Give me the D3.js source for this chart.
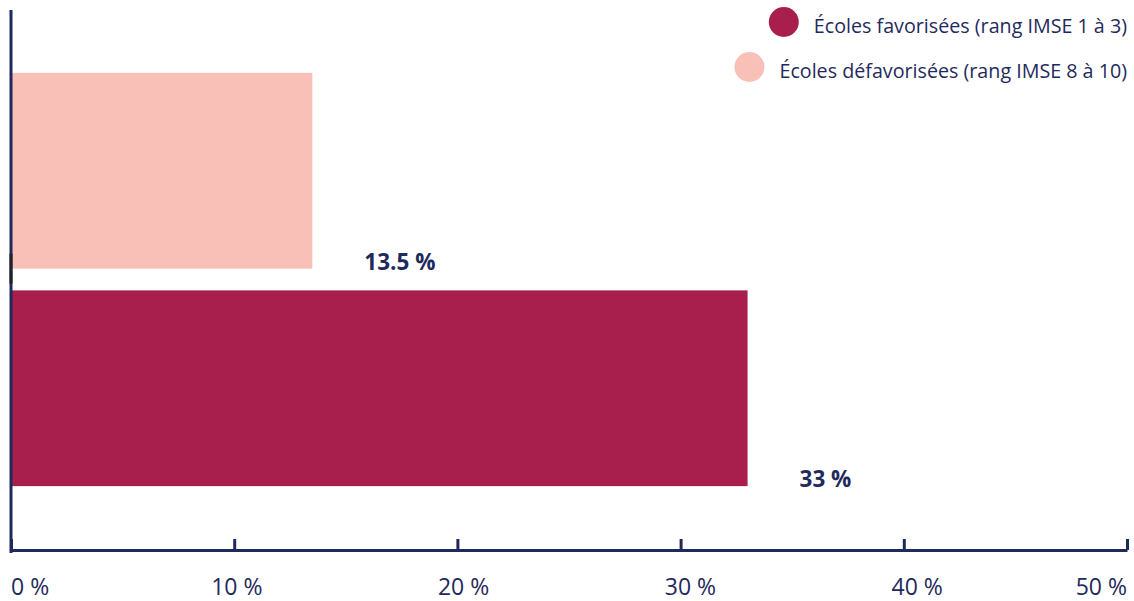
<!DOCTYPE html>
<html lang="fr">
<head>
<meta charset="utf-8">
<script src="https://cdn.jsdelivr.net/npm/d3@7"></script>
<style>
  html, body { margin: 0; padding: 0; background: #fff; }
  svg { display: block; font-family: "Open Sans", "Noto Sans", sans-serif; }
</style>
</head>
<body>
<svg id="chart" width="1134" height="601"></svg>
<script>
// Part des écoles (en %) selon le rang IMSE
const categories = ["Écoles défavorisées (rang IMSE 8 à 10)", "Écoles favorisées (rang IMSE 1 à 3)"];
const values = [13.5, 33];
const colors = ["#f9c0b8", "#a81e4d"];
const legendOrder = [1, 0];
const tickValues = [0, 10, 20, 30, 40, 50];
const tickLabels = ["0 %", "10 %", "20 %", "30 %", "40 %", "50 %"];

const navy = "#1f2a5c";
const svg = d3.select("#chart");

const x = d3.scaleLinear().domain([0, 50]).range([11, 1127]);
const y = d3.scaleBand().domain(categories).range([62, 497])
  .paddingInner(0.1).paddingOuter(0.05);

// Bars
svg.append("g").selectAll("rect")
  .data(categories)
  .join("rect")
  .attr("x", x(0))
  .attr("y", d => y(d))
  .attr("width", (d, i) => x(values[i]) - x(0))
  .attr("height", y.bandwidth())
  .attr("fill", (d, i) => colors[i]);

// Value labels
svg.append("g").selectAll("text")
  .data(categories)
  .join("text")
  .attr("x", (d, i) => x(values[i]) + 52)
  .attr("y", d => y(d) + y.bandwidth() + 1)
  .attr("fill", navy)
  .attr("font-size", 22.5)
  .attr("font-weight", 700)
  .text((d, i) => String(values[i]) + " %");

// X axis: baseline and upward ticks
const xAxis = svg.append("g")
  .attr("transform", "translate(0,550)")
  .call(d3.axisBottom(x).tickValues(tickValues).tickSize(-11).tickSizeOuter(0).tickFormat(""));
xAxis.select(".domain").attr("stroke", navy).attr("stroke-width", 3);
xAxis.selectAll(".tick line").attr("stroke", navy).attr("stroke-width", 3);

// Tick labels, spread slightly wider than the ticks; end labels kept inside the plot
const xl = d3.scaleLinear().domain([0, 50]).range([10, 1144]);
svg.append("g").selectAll("text")
  .data(tickValues)
  .join("text")
  .attr("x", (d, i) => i === 0 || i === tickValues.length - 1 ? x(d) : xl(d))
  .attr("y", 595)
  .attr("text-anchor", (d, i) => i === 0 ? "start" : i === tickValues.length - 1 ? "end" : "middle")
  .attr("fill", navy)
  .attr("font-size", 23)
  .text((d, i) => tickLabels[i]);

// Y axis line
svg.append("line")
  .attr("x1", x(0)).attr("x2", x(0))
  .attr("y1", 10).attr("y2", 553)
  .attr("stroke", navy).attr("stroke-width", 3);
svg.append("line")
  .attr("x1", x(0)).attr("x2", x(0))
  .attr("y1", y(categories[0]) + y.bandwidth() - 15)
  .attr("y2", y(categories[0]) + y.bandwidth() + 15)
  .attr("stroke", "#222").attr("stroke-width", 3);

// Legend, right-aligned
const legend = svg.append("g");
legendOrder.forEach((ci, k) => {
  const cy = 22 + k * 45;
  const t = legend.append("text")
    .attr("x", 1127)
    .attr("y", cy + 11)
    .attr("text-anchor", "end")
    .attr("fill", navy)
    .attr("font-size", 19.7)
    .text(categories[ci]);
  const w = t.node().getComputedTextLength();
  legend.append("circle")
    .attr("cx", 1127 - w - 30)
    .attr("cy", cy)
    .attr("r", 15)
    .attr("fill", colors[ci]);
});
</script>
</body>
</html>
